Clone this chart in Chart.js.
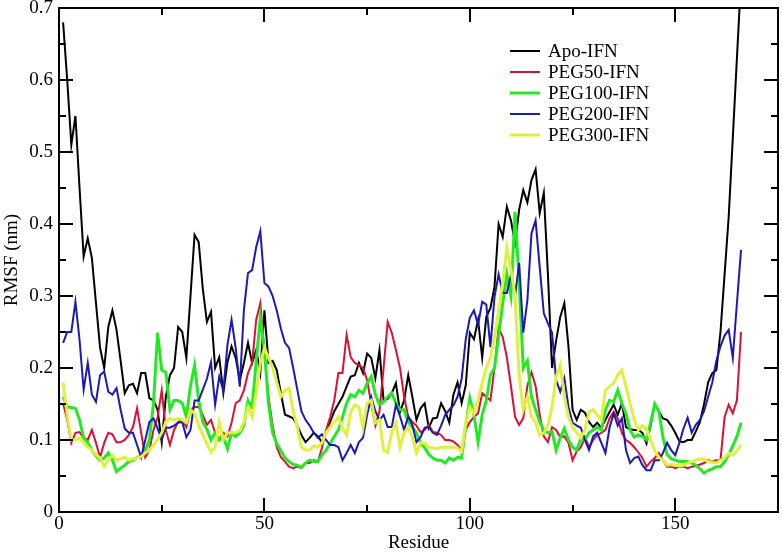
<!DOCTYPE html>
<html>
<head>
<meta charset="utf-8">
<script src="https://cdn.jsdelivr.net/npm/chart.js@4.4.0/dist/chart.umd.min.js"></script>
<style>
  html, body { margin: 0; padding: 0; background: #fff; }
  #wrap { width: 782px; height: 553px; }
</style>
</head>
<body>
<div id="wrap"><canvas id="rmsfChart" width="782" height="553"></canvas></div>
<script>
// RMSF per residue (residues start at 1)
const firstResidue = 1;
const seriesLabels = ["Apo-IFN", "PEG50-IFN", "PEG100-IFN", "PEG200-IFN", "PEG300-IFN"];

const apoIFN = [
  0.68, 0.60, 0.51, 0.55, 0.45, 0.355, 0.38, 0.353, 0.29, 0.228,
  0.2, 0.257, 0.28, 0.253, 0.21, 0.165, 0.176, 0.178, 0.165, 0.193,
  0.193, 0.158, 0.155, 0.142, 0.097, 0.16, 0.19, 0.2, 0.257, 0.25,
  0.214, 0.3, 0.385, 0.375, 0.31, 0.264, 0.278, 0.2, 0.215, 0.165,
  0.208, 0.23, 0.214, 0.183, 0.207, 0.235, 0.207, 0.225, 0.193, 0.28,
  0.207, 0.21, 0.197, 0.165, 0.135, 0.133, 0.13, 0.12, 0.107, 0.097,
  0.103, 0.11, 0.105, 0.097, 0.11, 0.125, 0.14, 0.15, 0.16, 0.174,
  0.188, 0.19, 0.207, 0.193, 0.22, 0.214, 0.186, 0.225, 0.155, 0.157,
  0.165, 0.179, 0.139, 0.155, 0.19, 0.16, 0.128, 0.144, 0.151, 0.117,
  0.13, 0.131, 0.151, 0.14, 0.124, 0.163, 0.18, 0.151, 0.176, 0.249,
  0.24, 0.267, 0.214, 0.271, 0.283, 0.313, 0.4, 0.382, 0.424, 0.405,
  0.373, 0.42, 0.447, 0.43, 0.461, 0.476, 0.415, 0.443, 0.33, 0.2,
  0.238, 0.271, 0.29, 0.23, 0.142, 0.128, 0.142, 0.138, 0.125, 0.118,
  0.124, 0.117, 0.128, 0.139, 0.149, 0.135, 0.151, 0.118, 0.115, 0.114,
  0.114, 0.11, 0.095, 0.12, 0.15, 0.14, 0.13, 0.128, 0.12, 0.11,
  0.098, 0.097, 0.1, 0.1, 0.112, 0.125, 0.15, 0.18, 0.193, 0.197,
  0.25, 0.33, 0.41, 0.52, 0.63, 0.74
];
const peg50IFN = [
  0.151, 0.128, 0.096, 0.11, 0.111, 0.103, 0.1, 0.114, 0.096, 0.076,
  0.096, 0.11, 0.108, 0.097, 0.097, 0.1, 0.107, 0.118, 0.144, 0.11,
  0.076, 0.086, 0.114, 0.132, 0.169, 0.114, 0.093, 0.114, 0.125, 0.128,
  0.118, 0.142, 0.146, 0.146, 0.135, 0.121, 0.128, 0.11, 0.1, 0.11,
  0.105, 0.124, 0.151, 0.155, 0.169, 0.193, 0.207, 0.267, 0.29, 0.22,
  0.16, 0.12, 0.09, 0.076, 0.07, 0.063, 0.061, 0.063, 0.061, 0.068,
  0.068, 0.072, 0.07, 0.089, 0.114, 0.132, 0.155, 0.193, 0.193, 0.246,
  0.215, 0.207, 0.204, 0.2, 0.183, 0.15, 0.12, 0.14, 0.2, 0.264,
  0.249, 0.225, 0.2, 0.16, 0.132, 0.125, 0.12, 0.111, 0.114, 0.121,
  0.111, 0.11, 0.107, 0.1, 0.1, 0.098, 0.093, 0.086, 0.114, 0.125,
  0.132, 0.137, 0.165, 0.16, 0.155, 0.2, 0.256, 0.243, 0.215, 0.175,
  0.132, 0.121, 0.13, 0.175, 0.194, 0.175, 0.135, 0.105, 0.097, 0.118,
  0.114, 0.104, 0.105, 0.096, 0.072, 0.084, 0.09, 0.104, 0.09, 0.1,
  0.107, 0.11, 0.114, 0.13, 0.139, 0.13, 0.11, 0.1, 0.096, 0.09,
  0.083, 0.075, 0.063, 0.07, 0.075, 0.082, 0.072, 0.063, 0.063, 0.061,
  0.063, 0.063, 0.061, 0.063, 0.064, 0.066, 0.068, 0.072, 0.07, 0.072,
  0.072, 0.132, 0.149, 0.137, 0.155, 0.25
];
const peg100IFN = [
  0.16, 0.146, 0.145, 0.144, 0.128, 0.103, 0.096, 0.086, 0.078, 0.072,
  0.075, 0.082, 0.072, 0.056, 0.061, 0.065, 0.07, 0.072, 0.076, 0.077,
  0.085, 0.1, 0.151, 0.249, 0.197, 0.194, 0.142, 0.155, 0.155, 0.151,
  0.132, 0.175, 0.204, 0.155, 0.125, 0.115, 0.1, 0.11, 0.1, 0.105,
  0.088, 0.11, 0.105, 0.11, 0.12, 0.155, 0.145, 0.21, 0.27, 0.225,
  0.15, 0.11, 0.095, 0.085, 0.075, 0.07, 0.066, 0.065, 0.062, 0.068,
  0.072, 0.07, 0.07, 0.079, 0.086, 0.095, 0.105, 0.114, 0.132, 0.151,
  0.163, 0.16, 0.169, 0.165, 0.179, 0.188, 0.163, 0.149, 0.153, 0.16,
  0.165, 0.151, 0.142, 0.142, 0.125, 0.118, 0.11, 0.096, 0.089, 0.08,
  0.075, 0.072, 0.072, 0.068, 0.075, 0.072, 0.076, 0.075, 0.12, 0.158,
  0.135, 0.097, 0.135, 0.155, 0.19, 0.2, 0.245, 0.29, 0.33, 0.3,
  0.417, 0.32, 0.2, 0.21, 0.16, 0.142, 0.125, 0.114, 0.11, 0.112,
  0.086, 0.103, 0.116, 0.1, 0.09, 0.086, 0.102, 0.1, 0.11, 0.114,
  0.118, 0.114, 0.142, 0.155, 0.153, 0.169, 0.151, 0.137, 0.114, 0.104,
  0.107, 0.105, 0.1, 0.124, 0.15, 0.14, 0.104, 0.08, 0.074, 0.072,
  0.07, 0.07, 0.07, 0.068, 0.065, 0.06, 0.054, 0.058, 0.06, 0.063,
  0.063, 0.07, 0.08, 0.092, 0.105, 0.124
];
const peg200IFN = [
  0.235, 0.25, 0.25, 0.292, 0.239, 0.17, 0.207, 0.163, 0.153, 0.19,
  0.195, 0.167, 0.163, 0.172, 0.142, 0.116, 0.11, 0.11, 0.093, 0.076,
  0.1, 0.125, 0.13, 0.116, 0.1, 0.117, 0.117, 0.12, 0.124, 0.125,
  0.104, 0.114, 0.155, 0.155, 0.17, 0.185, 0.208, 0.149, 0.188, 0.169,
  0.232, 0.267, 0.228, 0.174, 0.28, 0.332, 0.336, 0.368, 0.39, 0.318,
  0.313, 0.3, 0.28, 0.255, 0.235, 0.228, 0.2, 0.17, 0.14, 0.128,
  0.12, 0.11, 0.103, 0.108, 0.1, 0.093, 0.093, 0.09, 0.072, 0.082,
  0.093, 0.082, 0.097, 0.103, 0.135, 0.16, 0.14, 0.128, 0.135, 0.118,
  0.118, 0.149, 0.133, 0.114, 0.133, 0.121, 0.097, 0.104, 0.117, 0.118,
  0.11, 0.107, 0.12, 0.135, 0.142, 0.148, 0.16, 0.185, 0.24, 0.27,
  0.28, 0.26, 0.292, 0.288, 0.229, 0.299, 0.33, 0.304, 0.304, 0.329,
  0.3, 0.346, 0.249, 0.294, 0.387, 0.405, 0.34, 0.276, 0.262, 0.249,
  0.183, 0.167, 0.186, 0.146, 0.124, 0.12, 0.117, 0.1, 0.086, 0.105,
  0.11, 0.096, 0.082, 0.117, 0.137, 0.12, 0.13, 0.086, 0.068, 0.075,
  0.077, 0.065, 0.058, 0.058, 0.072, 0.072, 0.082, 0.096, 0.086, 0.079,
  0.096, 0.116, 0.131, 0.11, 0.121, 0.128, 0.14, 0.16, 0.18, 0.21,
  0.23, 0.245, 0.253, 0.214, 0.29, 0.364
];
const peg300IFN = [
  0.18, 0.135, 0.1, 0.1, 0.103, 0.096, 0.09, 0.086, 0.08, 0.075,
  0.063, 0.072, 0.079, 0.072, 0.074, 0.076, 0.072, 0.074, 0.075, 0.077,
  0.082, 0.086, 0.093, 0.1, 0.11, 0.125, 0.13, 0.128, 0.13, 0.128,
  0.124, 0.142, 0.137, 0.12, 0.107, 0.095, 0.083, 0.09, 0.125, 0.1,
  0.11, 0.11, 0.11, 0.113, 0.125, 0.146, 0.132, 0.165, 0.207, 0.228,
  0.214, 0.2, 0.18, 0.16, 0.169, 0.172, 0.14, 0.118, 0.09, 0.086,
  0.086, 0.092, 0.09, 0.096, 0.11, 0.118, 0.125, 0.132, 0.117, 0.107,
  0.139, 0.149, 0.146, 0.117, 0.151, 0.155, 0.124, 0.128, 0.086, 0.083,
  0.111, 0.124, 0.09, 0.11, 0.118, 0.104, 0.082, 0.096, 0.096, 0.09,
  0.089, 0.088, 0.09, 0.09, 0.09, 0.09, 0.089, 0.084, 0.124, 0.146,
  0.137, 0.155, 0.179, 0.2, 0.215, 0.243, 0.28, 0.318, 0.367, 0.336,
  0.3, 0.19, 0.142, 0.16, 0.132, 0.124, 0.107, 0.11, 0.12, 0.146,
  0.188, 0.204, 0.16, 0.132, 0.118, 0.11, 0.103, 0.114, 0.139, 0.142,
  0.135, 0.128, 0.169, 0.174, 0.179, 0.19, 0.197, 0.174, 0.151, 0.128,
  0.114, 0.12, 0.115, 0.1, 0.085, 0.076, 0.072, 0.065, 0.066, 0.065,
  0.064, 0.065, 0.068, 0.07, 0.072, 0.074, 0.073, 0.07, 0.069, 0.068,
  0.072, 0.075, 0.082, 0.079, 0.085, 0.093
];

const residues = apoIFN.map((_, i) => firstResidue + i);
const seriesValues = [apoIFN, peg50IFN, peg100IFN, peg200IFN, peg300IFN];
const seriesColors = ["#000000", "#dc1034", "#22ea22", "#1a1ab8", "#e0f03c"];
const seriesWidths = [2, 2, 3, 2, 3];

Chart.defaults.font.family = "'Liberation Serif', 'Times New Roman', serif";
Chart.defaults.font.size = 19;
Chart.defaults.color = "#000";

// Grace-style box with inward ticks on all four sides
const frameTicks = {
  id: "frameTicks",
  afterDatasetsDraw(chart) {
    const { ctx, chartArea: a, scales: { x, y } } = chart;
    ctx.save();
    ctx.strokeStyle = "#000";
    ctx.lineWidth = 2;
    ctx.beginPath();
    for (let v = 0; v <= 175; v += 25) {
      const px = Math.round(x.getPixelForValue(v));
      const len = v % 50 === 0 ? 14 : 7;
      ctx.moveTo(px, a.bottom); ctx.lineTo(px, a.bottom - len);
      ctx.moveTo(px, a.top); ctx.lineTo(px, a.top + len);
    }
    for (let i = 0; i <= 14; i++) {
      const py = Math.round(y.getPixelForValue(i * 0.05));
      const len = i % 2 === 0 ? 14 : 7;
      ctx.moveTo(a.left, py); ctx.lineTo(a.left + len, py);
      ctx.moveTo(a.right, py); ctx.lineTo(a.right - len, py);
    }
    ctx.stroke();
    ctx.strokeRect(a.left, a.top, a.right - a.left, a.bottom - a.top);
    ctx.restore();
  }
};

// legend inside the plot, upper right
const insideLegend = {
  id: "insideLegend",
  afterDraw(chart) {
    const ctx = chart.ctx;
    ctx.save();
    ctx.font = "19px 'Liberation Serif', 'Times New Roman', serif";
    ctx.textBaseline = "middle";
    ctx.fillStyle = "#000";
    chart.data.datasets.forEach((ds, i) => {
      const yy = 51 + i * 21;
      ctx.strokeStyle = ds.borderColor;
      ctx.lineWidth = ds.borderWidth;
      ctx.beginPath();
      ctx.moveTo(510, yy);
      ctx.lineTo(540, yy);
      ctx.stroke();
      ctx.fillText(ds.label, 548, yy + 1);
    });
    ctx.restore();
  }
};

new Chart(document.getElementById("rmsfChart"), {
  type: "line",
  data: {
    datasets: seriesLabels.map((label, i) => ({
      label: label,
      data: residues.map((r, j) => ({ x: r, y: seriesValues[i][j] })),
      borderColor: seriesColors[i],
      borderWidth: seriesWidths[i],
      pointRadius: 0,
      tension: 0,
      fill: false,
      order: seriesLabels.length - i
    }))
  },
  options: {
    responsive: false,
    animation: false,
    devicePixelRatio: 1,
    layout: { padding: { top: 8, right: 4, left: 0, bottom: 0 } },
    plugins: { legend: { display: false }, tooltip: { enabled: false } },
    scales: {
      x: {
        type: "linear",
        min: 0,
        max: 175,
        grid: { display: false, drawTicks: false },
        border: { display: false },
        ticks: {
          stepSize: 25,
          autoSkip: false,
          maxRotation: 0,
          padding: 1,
          callback: (v) => (v % 50 === 0 ? String(v) : "")
        },
        title: { display: true, text: "Residue", font: { size: 19, lineHeight: 1 }, padding: { top: 0, bottom: 0 } },
        afterFit: (s) => { s.height = 41; s.paddingLeft = 0; s.paddingRight = 0; }
      },
      y: {
        min: 0,
        max: 0.7,
        grid: { display: false, drawTicks: false },
        border: { display: false },
        ticks: {
          stepSize: 0.1,
          padding: 6,
          callback: (v) => (v === 0 ? "0" : v.toFixed(1))
        },
        title: { display: true, text: "RMSF (nm)", font: { size: 19, lineHeight: 1 }, padding: { top: 3, bottom: 0 } },
        afterFit: (s) => { s.width = 59; s.paddingTop = 0; s.paddingBottom = 0; }
      }
    }
  },
  plugins: [frameTicks, insideLegend]
});
</script>
</body>
</html>
